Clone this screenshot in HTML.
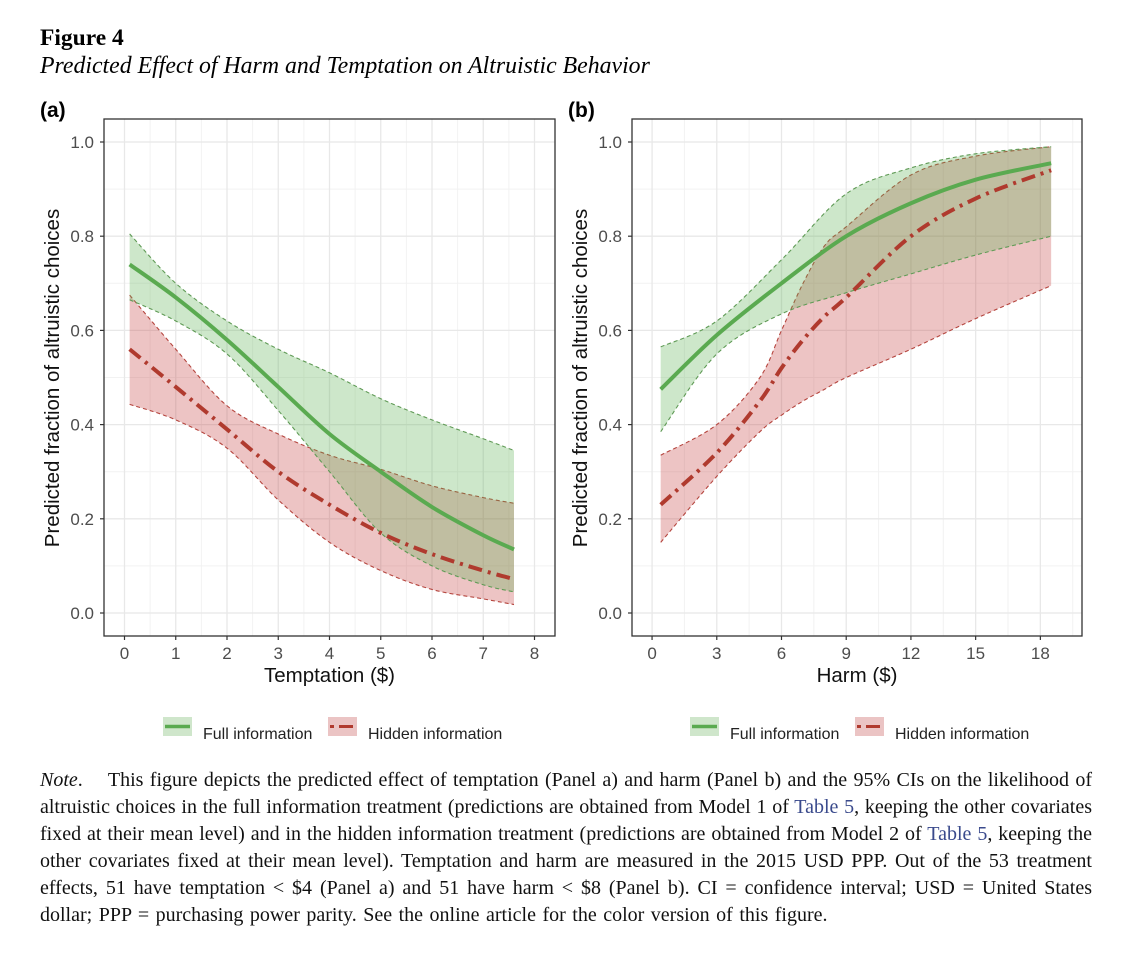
<!DOCTYPE html>
<html><head><meta charset="utf-8">
<style>
body{margin:0;background:#fff;width:1129px;height:953px;overflow:hidden;position:relative;font-family:"Liberation Serif",serif;}
.t{position:absolute;white-space:nowrap;line-height:1;}
#note{position:absolute;left:40px;top:767px;width:1052px;font-size:20px;line-height:27px;color:#111;}
#note div{text-align:justify;text-align-last:justify;white-space:nowrap;}
#note div.last{text-align-last:left;word-spacing:1.5px;}
#note a{color:#3a4a8c;text-decoration:none;}
svg text{font-family:"Liberation Sans",sans-serif;}
</style></head><body>
<div class="t" style="left:40px;top:27px;font-weight:bold;font-size:23.5px;">Figure 4</div>
<div class="t" style="left:40px;top:55px;font-style:italic;font-size:23.8px;">Predicted Effect of Harm and Temptation on Altruistic Behavior</div>
<svg id="chart" width="1129" height="760" style="position:absolute;left:0;top:0"></svg>
<div id="note">
<div><i>Note</i>.&nbsp;&nbsp;&nbsp; This figure depicts the predicted effect of temptation (Panel a) and harm (Panel b) and the 95% CIs on the likelihood of</div>
<div>altruistic choices in the full information treatment (predictions are obtained from Model 1 of <a>Table 5</a>, keeping the other covariates</div>
<div>fixed at their mean level) and in the hidden information treatment (predictions are obtained from Model 2 of <a>Table 5</a>, keeping the</div>
<div>other covariates fixed at their mean level). Temptation and harm are measured in the 2015 USD PPP. Out of the 53 treatment</div>
<div>effects, 51 have temptation &lt; $4 (Panel a) and 51 have harm &lt; $8 (Panel b). CI = confidence interval; USD = United States</div>
<div class="last">dollar; PPP = purchasing power parity. See the online article for the color version of this figure.</div>
</div>
<script>
// Panel a data
const aX = [0.1,1,2,3,4,5,6,7,7.6];
const aFull = [0.74,0.67,0.58,0.48,0.38,0.30,0.225,0.165,0.135];
const aFullHi = [0.805,0.70,0.62,0.56,0.51,0.455,0.41,0.37,0.345];
const aFullLo = [0.665,0.62,0.55,0.43,0.30,0.17,0.10,0.06,0.045];
const aHid = [0.56,0.48,0.39,0.30,0.23,0.17,0.125,0.09,0.072];
const aHidHi = [0.675,0.56,0.44,0.38,0.335,0.305,0.27,0.245,0.233];
const aHidLo = [0.443,0.41,0.35,0.24,0.15,0.09,0.05,0.03,0.018];
const aTicks = ["0","1","2","3","4","5","6","7","8"];
// Panel b data
const bX = [0.4,3,6,9,12,15,18.5];
const bFull = [0.475,0.59,0.70,0.80,0.87,0.92,0.955];
const bFullHi = [0.565,0.62,0.75,0.89,0.945,0.975,0.99];
const bFullLo = [0.385,0.55,0.635,0.68,0.72,0.76,0.80];
const bHidX = [0.4,3,5,6,7,8,9,12,15,18.5];
const bHid = [0.23,0.34,0.45,0.52,0.58,0.63,0.67,0.80,0.88,0.94];
const bHidHi = [0.335,0.40,0.50,0.60,0.70,0.78,0.82,0.93,0.97,0.99];
const bHidLo = [0.15,0.29,0.385,0.42,0.45,0.475,0.50,0.56,0.625,0.695];
const bTicks = ["0","3","6","9","12","15","18"];
const yTicks = ["0.0","0.2","0.4","0.6","0.8","1.0"];

const NS="http://www.w3.org/2000/svg";
const svg=document.getElementById('chart');
function mk(tag,attrs,parent){const e=document.createElementNS(NS,tag);for(const k in attrs)e.setAttribute(k,attrs[k]);(parent||svg).appendChild(e);return e;}
function spline(pts){let d='M'+pts[0][0]+','+pts[0][1];for(let i=0;i<pts.length-1;i++){const p0=pts[Math.max(i-1,0)],p1=pts[i],p2=pts[i+1],p3=pts[Math.min(i+2,pts.length-1)];const c1x=p1[0]+(p2[0]-p0[0])/6,c1y=p1[1]+(p2[1]-p0[1])/6,c2x=p2[0]-(p3[0]-p1[0])/6,c2y=p2[1]-(p3[1]-p1[1])/6;d+='C'+c1x+','+c1y+' '+c2x+','+c2y+' '+p2[0]+','+p2[1];}return d;}
function revSpline(pts){const d=spline(pts.slice().reverse());return 'L'+d.slice(1);}

function panel(cfg){
  const {L,R,T,B,xmin,xmax,ticks,tickVals,minor,label,xtitle,tag}=cfg;
  const sx=v=>L+(v-xmin)/(xmax-xmin)*(R-L);
  const sy=v=>613-v*471;
  const g=mk('g',{});
  
  
  minor.forEach(v=>{mk('line',{x1:sx(v),x2:sx(v),y1:T,y2:B,stroke:'#f2f2f2','stroke-width':1},g);});
  [0.1,0.3,0.5,0.7,0.9].forEach(v=>{mk('line',{x1:L,x2:R,y1:sy(v),y2:sy(v),stroke:'#f2f2f2','stroke-width':1},g);});
  tickVals.forEach(v=>{const l=mk('line',{x1:sx(v),x2:sx(v),y1:T,y2:B,stroke:'#e8e8e8','stroke-width':1.3},g);});
  yTicks.forEach((t,i)=>{const v=i*0.2;const l=mk('line',{x1:L,x2:R,y1:sy(v),y2:sy(v),stroke:'#e8e8e8','stroke-width':1.3},g);
    mk('line',{x1:L-4,x2:L,y1:sy(v),y2:sy(v),stroke:'#333','stroke-width':1.2},g);
    const tx=mk('text',{x:L-10,y:sy(v)+6,'text-anchor':'end','font-size':17,fill:'#4d4d4d'},g);tx.textContent=t;});
  ticks.forEach((t,i)=>{const v=tickVals[i];mk('line',{x1:sx(v),x2:sx(v),y1:B,y2:B+4,stroke:'#333','stroke-width':1.2},g);
    const tx=mk('text',{x:sx(v),y:B+23,'text-anchor':'middle','font-size':17,fill:'#4d4d4d'},g);tx.textContent=t;});
  const series=[
    {x:cfg.hx,m:cfg.hm,hi:cfg.hhi,lo:cfg.hlo,fill:'rgba(200,70,70,0.32)',edge:'#b5453e',line:'#b03a2e',dash:'14,6,3,6',name:'hidden'},
    {x:cfg.fx,m:cfg.fm,hi:cfg.fhi,lo:cfg.flo,fill:'rgba(90,175,80,0.30)',edge:'#5f9a55',line:'#5aaa50',dash:'',name:'full'}];
  series.forEach(s=>{const hi=s.x.map((x,i)=>[sx(x),sy(s.hi[i])]);const lo=s.x.map((x,i)=>[sx(x),sy(s.lo[i])]);
    const r=mk('path',{d:spline(hi)+revSpline(lo)+'Z',fill:s.fill,stroke:'none'},g);
    mk('path',{d:spline(hi),fill:'none',stroke:s.edge,'stroke-width':1.1,'stroke-dasharray':'4,3'},g);
    mk('path',{d:spline(lo),fill:'none',stroke:s.edge,'stroke-width':1.1,'stroke-dasharray':'4,3'},g);});
  series.slice().reverse().forEach(s=>{const m=s.x.map((x,i)=>[sx(x),sy(s.m[i])]);const p=mk('path',{d:spline(m),fill:'none',stroke:s.line,'stroke-width':4,'stroke-dasharray':s.dash},g);});
  const br=mk('rect',{x:L,y:T,width:R-L,height:B-T,fill:'none',stroke:'#333','stroke-width':1.3},g);
  const pl=mk('text',{x:L-64,y:117,'font-size':21,'font-weight':'bold',fill:'#000'},g);pl.textContent=label;
  const yt=mk('text',{x:0,y:0,'font-size':20.5,fill:'#111','text-anchor':'middle',transform:'translate('+(L-45)+',378) rotate(-90)'},g);yt.textContent='Predicted fraction of altruistic choices';
  const xt=mk('text',{x:(L+R)/2,y:682,'font-size':20.5,fill:'#111','text-anchor':'middle'},g);xt.textContent=xtitle;
  const lx=cfg.legX;
  const lg=mk('g',{},g);
  mk('rect',{x:lx,y:717,width:29,height:19,fill:'#cfe6cb'},lg);
  mk('line',{x1:lx+2,x2:lx+27,y1:726.5,y2:726.5,stroke:'#5aaa50','stroke-width':3.5},lg);
  const t1=mk('text',{x:lx+40,y:739,'font-size':16,fill:'#222'},lg);t1.textContent='Full information';
  mk('rect',{x:lx+165,y:717,width:29,height:19,fill:'#ebc4c4'},lg);
  mk('line',{x1:lx+167,x2:lx+192,y1:726.5,y2:726.5,stroke:'#b03a2e','stroke-width':3,'stroke-dasharray':'4,5,10,0'},lg);
  const t2=mk('text',{x:lx+205,y:739,'font-size':16,fill:'#222'},lg);t2.textContent='Hidden information';
}
panel({L:104,R:555,T:119,B:636,xmin:-0.4,xmax:8.4,ticks:aTicks,tickVals:[0,1,2,3,4,5,6,7,8],minor:[0.5,1.5,2.5,3.5,4.5,5.5,6.5,7.5],label:'(a)',xtitle:'Temptation ($)',tag:'a',legX:163,
  fx:aX,fm:aFull,fhi:aFullHi,flo:aFullLo,hx:aX,hm:aHid,hhi:aHidHi,hlo:aHidLo});
panel({L:632,R:1082,T:119,B:636,xmin:-0.93,xmax:19.93,ticks:bTicks,tickVals:[0,3,6,9,12,15,18],minor:[1.5,4.5,7.5,10.5,13.5,16.5,19.5],label:'(b)',xtitle:'Harm ($)',tag:'b',legX:690,
  fx:bX,fm:bFull,fhi:bFullHi,flo:bFullLo,hx:bHidX,hm:bHid,hhi:bHidHi,hlo:bHidLo});
</script>
</body></html>
